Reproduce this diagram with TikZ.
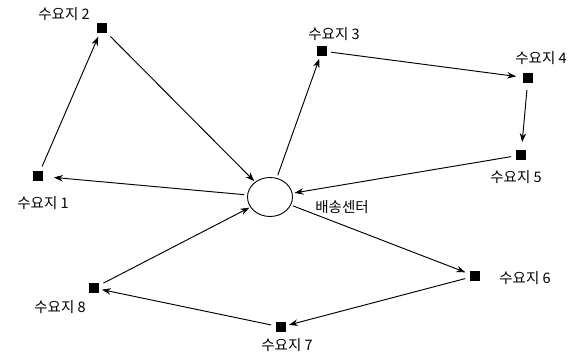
\documentclass[tikz,border=0pt]{standalone}
\usepackage{fontspec}
\newfontfamily\krfont{Noto Sans CJK KR}
\usetikzlibrary{arrows.meta,shapes.geometric}

\begin{document}
\begin{tikzpicture}[x=1pt, y=-1pt,
    dem/.style={rectangle, fill=black, minimum size=9.5pt, inner sep=0pt},
    depot/.style={ellipse, draw=black, line width=0.9pt,
                  minimum width=45pt, minimum height=39pt, inner sep=0pt},
    lbl/.style={font=\krfont\fontsize{14.5}{15}\selectfont, inner sep=0pt},
    route/.style={-{Stealth[length=9pt, width=6.5pt]}, line width=0.95pt, draw=black,
                  shorten <=5pt, shorten >=4pt}
]
\useasboundingbox (0,0) rectangle (577,353);

% depot and demand points
\node[depot] (dc) at (270,197) {};
\node[dem] (d1) at (38,176) {};
\node[dem] (d2) at (102,28) {};
\node[dem] (d3) at (322,51) {};
\node[dem] (d4) at (528,78) {};
\node[dem] (d5) at (521,155) {};
\node[dem] (d6) at (475,276) {};
\node[dem] (d7) at (281,327) {};
\node[dem] (d8) at (94,288) {};

% labels
\node[lbl] (l1) at (43,203) {수요지 1};
\node[lbl] (l2) at (64,14) {수요지 2};
\node[lbl] (l3) at (334,34) {수요지 3};
\node[lbl] (l4) at (541,58) {수요지 4};
\node[lbl] (l5) at (516,177) {수요지 5};
\node[lbl] (l6) at (525,278) {수요지 6};
\node[lbl] (l7) at (287,345) {수요지 7};
\node[lbl] (l8) at (60,307) {수요지 8};
\node[lbl] (ldc) at (342,207) {배송센터};

% routes
\draw[route, shorten <=3pt, shorten >=11pt] (dc) -- (d1);
\draw[route] (d1) -- (d2);
\draw[route, shorten >=1pt] (d2) -- (dc);
\draw[route, shorten <=3pt, shorten >=3pt] (dc) -- (d3);
\draw[route, shorten <=4pt, shorten >=7pt] (d3) -- (d4);
\draw[route, shorten <=7pt, shorten >=8pt] (d4) -- (d5);
\draw[route, shorten >=2pt] (d5) -- (dc);
\draw[route, shorten <=2pt, shorten >=5pt] (dc) -- (d6);
\draw[route, shorten >=3pt] (d6) -- (d7);
\draw[route, shorten >=3pt] (d7) -- (d8);
\draw[route, shorten >=1pt] (d8) -- (dc);

\end{tikzpicture}
\end{document}
